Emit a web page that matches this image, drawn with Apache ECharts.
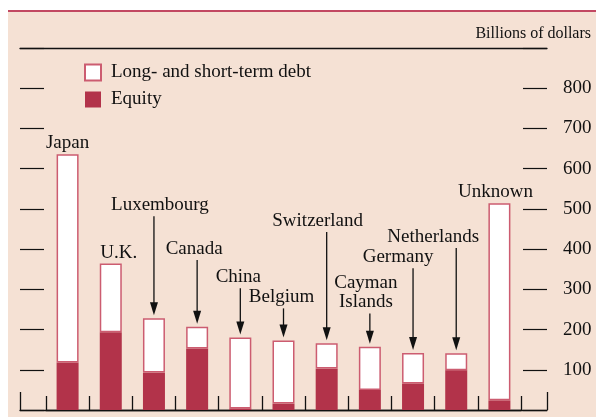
<!DOCTYPE html>
<html>
<head>
<meta charset="utf-8">
<script src="https://cdn.jsdelivr.net/npm/echarts@6/dist/echarts.min.js"></script>
<style>
  html, body { margin: 0; padding: 0; background: #fff; }
  #wrap { position: relative; width: 596px; height: 417px; overflow: hidden; }
  #paper { position: absolute; left: 8px; top: 10px; right: 0; bottom: 0; background: #f5e1d4; border-top: 2px solid #c24862; }
  #main { position: absolute; left: 0; top: 0; width: 596px; height: 417px; }
</style>
</head>
<body>
<div id="wrap">
  <div id="paper"></div>
  <div id="main"></div>
</div>
<script>
// values in billions of dollars
var countries = ['Japan', 'U.K.', 'Luxembourg', 'Canada', 'China', 'Belgium', 'Switzerland', 'Cayman\nIslands', 'Germany', 'Netherlands', 'Unknown']
var equity = [118, 193, 93, 153, 4, 16, 103, 50, 66, 99, 24]
var debt = [518, 171, 135, 54, 176, 157, 63, 107, 76, 42, 490]
var yTicks = [0, 100, 200, 300, 400, 500, 600, 700, 800, 900]

// callouts: level of the label (null = sits right on the bar) and a small sideways nudge
var calloutLevel = [null, null, 509, 400, 330, 280, 470, 291, 380, 430, null]
var calloutShift = [0, 8, 6, -3, -2, -2, -9, -4, -15, -23, -4]

var serif = '"Liberation Serif", "DejaVu Serif", serif'
var ink = '#111'
var red = '#b2334a'
var pink = '#cc5c70'

var callouts = countries.map(function (c, i) {
    var total = equity[i] + debt[i]
    var lvl = calloutLevel[i] == null ? total : calloutLevel[i]
    return [i, lvl, total, calloutShift[i], calloutLevel[i] == null ? 0 : 1]
})

var myChart = echarts.init(document.getElementById('main'))
myChart.setOption({
    backgroundColor: 'transparent',
    animation: false,
    title: {
        text: 'Billions of dollars',
        right: 5,
        top: 26,
        padding: 0,
        textStyle: { fontFamily: serif, fontSize: 16, fontWeight: 'normal', color: ink }
    },
    legend: {
        orient: 'vertical',
        left: 84,
        top: 63,
        padding: 0,
        itemWidth: 16,
        itemHeight: 16,
        itemGap: 8,
        icon: 'rect',
        data: ['Long- and short-term debt', 'Equity'],
        textStyle: { fontFamily: serif, fontSize: 19, color: ink, padding: [0, 0, 0, 5] }
    },
    grid: [
        { left: 46, right: 75, top: 48, bottom: 7 },   // bars
        { left: 20, right: 49, top: 48, bottom: 7 }    // frame + value ticks
    ],
    xAxis: [
        {
            type: 'category',
            gridIndex: 0,
            data: countries,
            axisLine: { show: true, onZero: false, lineStyle: { color: ink, width: 1.3 } },
            axisTick: { show: true, inside: true, length: 14, interval: 0, lineStyle: { color: ink, width: 1.3 } },
            axisLabel: { show: false }
        },
        {
            type: 'value',
            gridIndex: 1,
            position: 'bottom',
            min: 0,
            max: 1,
            interval: 1,
            axisLine: { show: true, onZero: false, lineStyle: { color: ink, width: 1.3 } },
            axisTick: { show: true, inside: true, length: 18, lineStyle: { color: ink, width: 1.3 } },
            axisLabel: { show: false },
            splitLine: { show: false }
        },
        {
            type: 'value',
            gridIndex: 1,
            position: 'top',
            min: 0,
            max: 1,
            axisLine: { show: true, onZero: false, lineStyle: { color: ink, width: 1.3 } },
            axisTick: { show: false },
            axisLabel: { show: false },
            splitLine: { show: false }
        }
    ],
    yAxis: [
        {
            type: 'value',
            gridIndex: 0,
            min: 0,
            max: 900,
            interval: 100,
            show: false
        },
        {
            type: 'value',
            gridIndex: 1,
            position: 'left',
            min: 0,
            max: 900,
            interval: 100,
            axisLine: { show: false, onZero: false },
            axisTick: { show: true, inside: true, length: 24, lineStyle: { color: ink, width: 1.2 } },
            axisLabel: { show: false },
            splitLine: { show: false }
        },
        {
            type: 'value',
            gridIndex: 1,
            position: 'right',
            min: 0,
            max: 900,
            interval: 100,
            axisLine: { show: false, onZero: false },
            axisTick: { show: true, inside: true, length: 24, lineStyle: { color: ink, width: 1.2 } },
            axisLabel: {
                margin: 16,
                fontFamily: serif,
                fontSize: 19,
                color: ink,
                formatter: function (v) {
                    return (v === yTicks[0] || v === yTicks[yTicks.length - 1]) ? '' : String(v)
                }
            },
            splitLine: { show: false }
        }
    ],
    series: [
        {
            name: 'Equity',
            type: 'bar',
            stack: 'total',
            xAxisIndex: 0,
            yAxisIndex: 0,
            barWidth: 22,
            data: equity,
            itemStyle: { color: red, borderColor: red, borderWidth: 0 }
        },
        {
            name: 'Long- and short-term debt',
            type: 'bar',
            stack: 'total',
            xAxisIndex: 0,
            yAxisIndex: 0,
            barWidth: 22,
            data: debt,
            itemStyle: { color: '#fff', borderColor: pink, borderWidth: 1.5 }
        },
        {
            type: 'custom',
            xAxisIndex: 0,
            yAxisIndex: 0,
            silent: true,
            data: callouts,
            renderItem: function (params, api) {
                var i = api.value(0)
                var top = api.coord([i, api.value(2)])
                var dx = api.value(3)
                var name = countries[i]
                var textStyle = {
                    text: name,
                    align: 'center',
                    verticalAlign: 'middle',
                    font: '19px ' + serif,
                    lineHeight: 19,
                    fill: ink
                }
                if (!api.value(4)) {
                    textStyle.x = top[0] + dx
                    textStyle.y = top[1] - 11
                    return { type: 'text', style: textStyle }
                }
                var lab = api.coord([i, api.value(1)])
                var lines = name.split('\n').length
                var y0 = lab[1] + lines * 19 / 2 + 1.5
                var tip = top[1] - 3
                var headH = 13
                var headW = 4
                textStyle.x = lab[0] + dx
                textStyle.y = lab[1]
                return {
                    type: 'group',
                    children: [
                        { type: 'text', style: textStyle },
                        {
                            type: 'line',
                            shape: { x1: top[0], y1: y0, x2: top[0], y2: tip - headH + 1 },
                            style: { stroke: ink, lineWidth: 1.3 }
                        },
                        {
                            type: 'polygon',
                            shape: { points: [[top[0] - headW, tip - headH], [top[0] + headW, tip - headH], [top[0], tip]] },
                            style: { fill: ink }
                        }
                    ]
                }
            }
        }
    ]
})
</script>
</body>
</html>
